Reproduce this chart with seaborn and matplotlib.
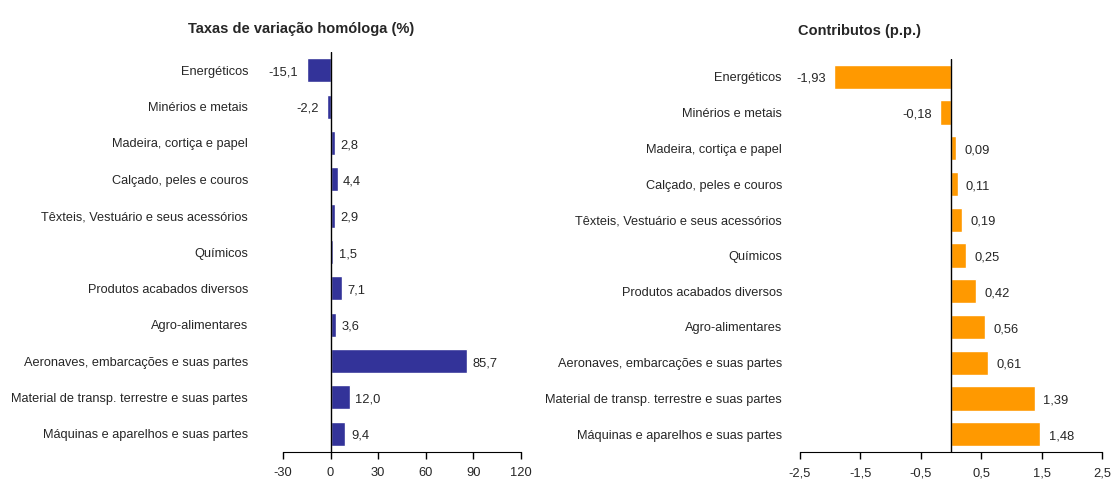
import matplotlib
matplotlib.use("Agg")
import matplotlib.pyplot as plt
import seaborn as sns
import pandas as pd

categorias = [
    "Energéticos",
    "Minérios e metais",
    "Madeira, cortiça e papel",
    "Calçado, peles e couros",
    "Têxteis, Vestuário e seus acessórios",
    "Químicos",
    "Produtos acabados diversos",
    "Agro-alimentares",
    "Aeronaves, embarcações e suas partes",
    "Material de transp. terrestre e suas partes",
    "Máquinas e aparelhos e suas partes",
]
taxas = [-15.1, -2.2, 2.8, 4.4, 2.9, 1.5, 7.1, 3.6, 85.7, 12.0, 9.4]
contributos = [-1.93, -0.18, 0.09, 0.11, 0.19, 0.25, 0.42, 0.56, 0.61, 1.39, 1.48]

ticks_esq = [-30, 0, 30, 60, 90, 120]
ticks_dir = [-2.5, -1.5, -0.5, 0.5, 1.5, 2.5]

sns.set_style("white")
plt.rcParams["font.family"] = ["Liberation Sans Narrow", "Liberation Sans", "DejaVu Sans"]

df = pd.DataFrame({"cat": categorias, "taxa": taxas, "contrib": contributos})

fig = plt.figure(figsize=(11.11, 4.79), dpi=100)
ax1 = fig.add_axes([0.2547, 0.0564, 0.2142, 0.835])
ax2 = fig.add_axes([0.7201, 0.0564, 0.2718, 0.8205])


def desenha(ax, col, cor, largura, ticks, dec, dx_pos, dx_neg, pad):
    sns.barplot(data=df, x=col, y="cat", color=cor, width=largura, ax=ax,
                saturation=1, orient="h")
    ax.set_xlim(ticks[0], ticks[-1])
    ax.set_ylim(len(categorias) - 0.5, -0.5)
    ax.set_xticks(ticks)
    ax.set_xticklabels([f"{t:g}".replace(".", ",") for t in ticks], fontsize=9.3)
    ax.tick_params(axis="x", bottom=True, direction="out", length=5, width=1,
                   color="black", pad=6)
    ax.tick_params(axis="y", left=False, length=0, pad=pad, labelsize=9.2)
    for s in ["top", "right", "left"]:
        ax.spines[s].set_visible(False)
    ax.spines["bottom"].set_color("black")
    ax.axvline(0, color="black", lw=1)
    ax.set_xlabel("")
    ax.set_ylabel("")
    for i, v in enumerate(df[col]):
        txt = f"{v:.{dec}f}".replace(".", ",")
        if v >= 0:
            ax.annotate(txt, (v, i), xytext=(dx_pos, -1.5), textcoords="offset points",
                        ha="left", va="center", fontsize=9.3)
        else:
            ax.annotate(txt, (v, i), xytext=(-dx_neg, -1.5), textcoords="offset points",
                        ha="right", va="center", fontsize=9.3)


desenha(ax1, "taxa", "#333399", 0.66, ticks_esq, 1, 4, 6, 25)
desenha(ax2, "contrib", "#FF9900", 0.68, ticks_dir, 2, 6, 6, 13)

fig.text(0.271, 0.94, "Taxas de variação homóloga (%)", fontsize=10.5,
         fontweight="bold", ha="center", va="center")
fig.text(0.774, 0.935, "Contributos (p.p.)", fontsize=10.5,
         fontweight="bold", ha="center", va="center")

fig.savefig("out.png", dpi=100)
